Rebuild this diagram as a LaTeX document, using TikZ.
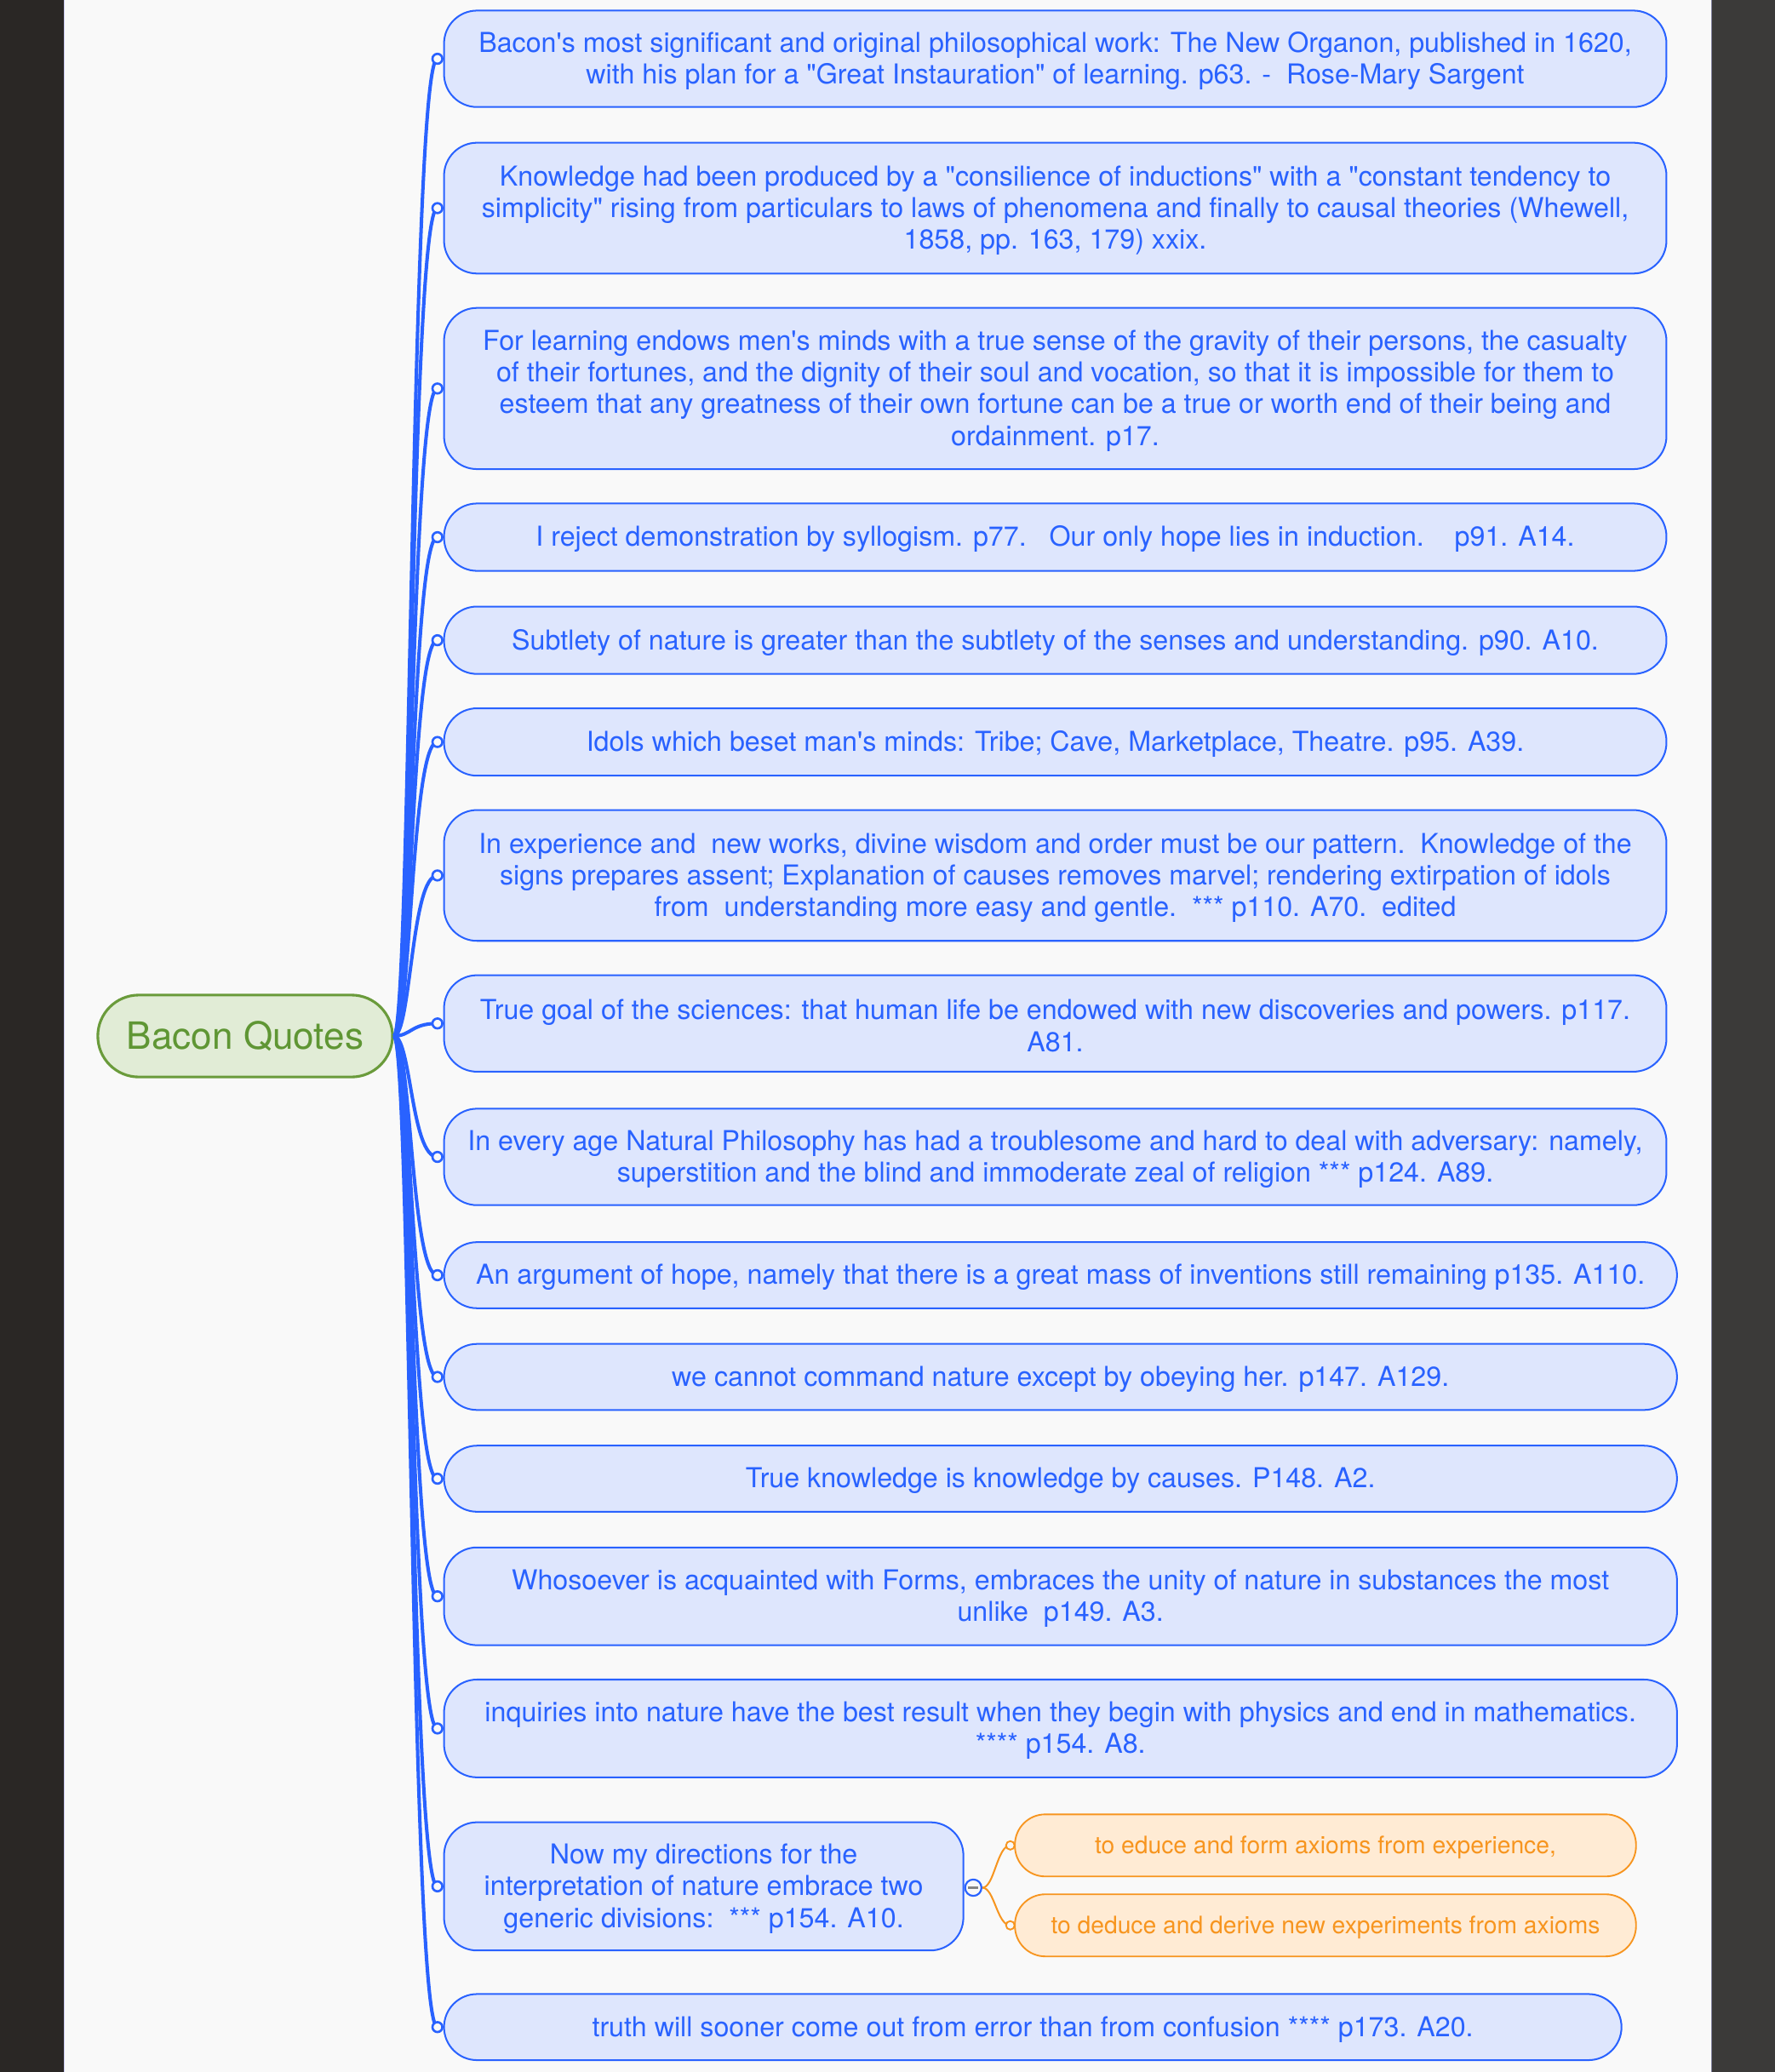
\documentclass[tikz,border=0pt]{standalone}
\usepackage{fontspec}
\newfontfamily\hv{TeX Gyre Heros}
\definecolor{bblue}{HTML}{2962FF}
\definecolor{bfill}{HTML}{DEE6FD}
\definecolor{gline}{HTML}{6A9B3B}
\definecolor{gfill}{HTML}{E1ECD6}
\definecolor{gtext}{HTML}{5F9634}
\definecolor{oline}{HTML}{F7951F}
\definecolor{ofill}{HTML}{FFEBD4}
\definecolor{bgc}{HTML}{F9F9F9}
\definecolor{darkl}{HTML}{2A2725}
\definecolor{darkr}{HTML}{3B3A39}
\definecolor{minusc}{HTML}{858585}
\newcommand\tst{\rule{0pt}{18.6pt}}
\newcommand\ost{\rule{0pt}{17pt}}
\begin{document}
\begin{tikzpicture}[x=1pt,y=-1pt,
  bnode/.style={draw=bblue, fill=bfill, text=bblue, line width=1.3pt, rounded corners=25pt,
    align=center, inner sep=0pt, font=\hv\fontsize{20.75}{24}\selectfont},
  onode/.style={draw=oline, fill=ofill, text=oline, line width=1.2pt, rounded corners=23pt,
    align=center, inner sep=0pt, font=\hv\fontsize{18.2}{22}\selectfont,
    minimum width=470pt, minimum height=47pt},
  rootnode/.style={draw=gline, fill=gfill, text=gtext, line width=2pt, rounded corners=31pt,
    align=center, inner sep=0pt, font=\hv\fontsize{28.4}{32}\selectfont,
    minimum width=223pt, minimum height=62pt},
  conn/.style={draw=bblue, line width=2.6pt},
  oconn/.style={draw=oline, line width=1.3pt},
  bdot/.style={circle, draw=bblue, fill=bgc, line width=1.7pt, inner sep=0pt, minimum size=7.5pt},
  odot/.style={circle, draw=oline, fill=bgc, line width=1.2pt, inner sep=0pt, minimum size=6.5pt},
  colc/.style={circle, draw=bblue, fill=bgc, line width=1.4pt, inner sep=0pt, minimum size=12.4pt}
]
\useasboundingbox (0,0) rectangle (1343,1568);
\fill[bgc] (0,0) rectangle (1343,1568);
\fill[darkl] (0,0) rectangle (48,1568);
\fill[darkr] (1295,0) rectangle (1343,1568);
\draw[color=black!25!blue!20!white, line width=0.8pt] (48.4,0) -- (48.4,1568);
\draw[color=darkr!80!blue!60!white, line width=0.6pt] (1295.3,0) -- (1295.3,1568);

% root
\node[rootnode] (root) at (185.5,784) {\rule{0pt}{22pt}Bacon Quotes};

% quote nodes
\node[bnode, minimum width=925pt, minimum height=73pt] (q1) at (798.5,44.5)
  {\tst Bacon's most significant and original philosophical work: The New Organon, published in 1620,\\with his plan for a "Great Instauration" of learning. p63. -~~Rose-Mary Sargent};
\node[bnode, minimum width=925pt, minimum height=99pt] (q2) at (798.5,157.5)
  {\tst Knowledge had been produced by a "consilience of inductions" with a "constant tendency to\\simplicity" rising from particulars to laws of phenomena and finally to causal theories (Whewell,\\1858, pp. 163, 179) xxix.};
\node[bnode, minimum width=925pt, minimum height=122pt] (q3) at (798.5,294)
  {\tst For learning endows men's minds with a true sense of the gravity of their persons, the casualty\\of their fortunes, and the dignity of their soul and vocation, so that it is impossible for them to\\esteem that any greatness of their own fortune can be a true or worth end of their being and\\ordainment. p17.};
\node[bnode, minimum width=925pt, minimum height=51pt] (q4) at (798.5,406.5)
  {\tst I reject demonstration by syllogism. p77.~~~Our only hope lies in induction.~~~~p91. A14.};
\node[bnode, minimum width=925pt, minimum height=51pt] (q5) at (798.5,484.5)
  {\tst Subtlety of nature is greater than the subtlety of the senses and understanding. p90. A10.};
\node[bnode, minimum width=925pt, minimum height=51pt] (q6) at (798.5,561.5)
  {\tst Idols which beset man's minds: Tribe; Cave, Marketplace, Theatre. p95. A39.};
\node[bnode, minimum width=925pt, minimum height=99pt] (q7) at (798.5,662.5)
  {\tst In experience and~~new works, divine wisdom and order must be our pattern.~~Knowledge of the\\signs prepares assent; Explanation of causes removes marvel; rendering extirpation of idols\\from~~understanding more easy and gentle.~~*** p110. A70.~~edited};
\node[bnode, minimum width=925pt, minimum height=73pt] (q8) at (798.5,774.5)
  {\tst True goal of the sciences: that human life be endowed with new discoveries and powers. p117.\\A81.};
\node[bnode, minimum width=925pt, minimum height=73pt] (q9) at (798.5,875.5)
  {\tst In every age Natural Philosophy has had a troublesome and hard to deal with adversary: namely,\\superstition and the blind and immoderate zeal of religion *** p124. A89.};
\node[bnode, minimum width=933pt, minimum height=50pt] (q10) at (802.5,965)
  {\tst An argument of hope, namely that there is a great mass of inventions still remaining p135. A110.};
\node[bnode, minimum width=933pt, minimum height=50pt] (q11) at (802.5,1042)
  {\tst we cannot command nature except by obeying her. p147. A129.};
\node[bnode, minimum width=933pt, minimum height=50pt] (q12) at (802.5,1119)
  {\tst True knowledge is knowledge by causes. P148. A2.};
\node[bnode, minimum width=933pt, minimum height=74pt] (q13) at (802.5,1208)
  {\tst Whosoever is acquainted with Forms, embraces the unity of nature in substances the most\\unlike~~p149. A3.};
\node[bnode, minimum width=933pt, minimum height=74pt] (q14) at (802.5,1308)
  {\tst inquiries into nature have the best result when they begin with physics and end in mathematics.\\**** p154. A8.};
\node[bnode, minimum width=393pt, minimum height=97pt] (q15) at (532.5,1427.5)
  {\tst Now my directions for the\\interpretation of nature embrace two\\generic divisions:~~*** p154. A10.};
\node[bnode, minimum width=891pt, minimum height=50pt] (q16) at (781.5,1534)
  {\tst truth will sooner come out from error than from confusion **** p173. A20.};

% connector end points
\foreach \i/\yy in {1/44.5,2/157.5,3/294,4/406.5,5/484.5,6/561.5,7/662.5,8/774.5,9/875.5,
                    10/965,11/1042,12/1119,13/1208,14/1308,15/1427.5,16/1534}{
  \coordinate (d\i) at (331,\yy);
}
\foreach \i in {1,...,16}{
  \draw[conn] (root.east) .. controls +(13,0) and +(-20,0) .. (d\i);
}
\foreach \i in {1,...,16}{
  \node[bdot] at (d\i) {};
}

% sub-branches
\node[onode] (o1) at (1003,1396.5) {\ost to educe and form axioms from experience,};
\node[onode] (o2) at (1003,1457) {\ost to deduce and derive new experiments from axioms};
\node[colc] (col) at (736.5,1428.5) {};
\coordinate (e1) at (764.5,1396.5);
\coordinate (e2) at (764.5,1457);
\draw[oconn] (col.east) .. controls +(9,0) and +(-10,0) .. (e1);
\draw[oconn] (col.east) .. controls +(9,0) and +(-10,0) .. (e2);
\node[odot] at (e1) {};
\node[odot] at (e2) {};
\draw[minusc, line width=1.6pt] ([xshift=-4pt]col.center) -- ([xshift=4pt]col.center);
\end{tikzpicture}
\end{document}
